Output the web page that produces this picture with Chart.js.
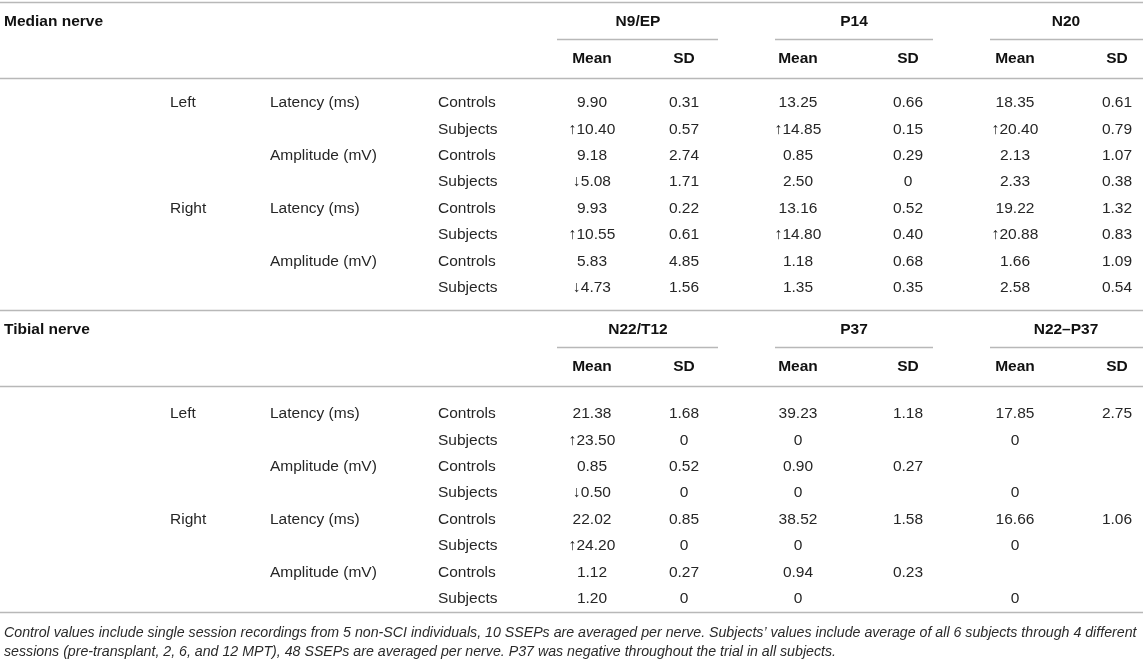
<!DOCTYPE html>
<html>
<head>
<meta charset="utf-8">
<script src="https://cdn.jsdelivr.net/npm/chart.js@4/dist/chart.umd.min.js"></script>
<style>
html,body{margin:0;padding:0;background:#fff;}
canvas{display:block;}
</style>
</head>
<body>
<canvas id="c" width="1143" height="667"></canvas>
<script>
// ---------- DATA ----------
const sections = ['Median nerve', 'Tibial nerve'];
const medianGroups = ['N9/EP', 'P14', 'N20'];
const tibialGroups = ['N22/T12', 'P37', 'N22–P37'];
const statLabels = ['Mean', 'SD'];
const sides = ['Left', 'Right'];
const measures = ['Latency (ms)', 'Amplitude (mV)'];
const cohorts = ['Controls', 'Subjects'];

const medianMean = [
  [9.90, 13.25, 18.35],
  [10.40, 14.85, 20.40],
  [9.18, 0.85, 2.13],
  [5.08, 2.50, 2.33],
  [9.93, 13.16, 19.22],
  [10.55, 14.80, 20.88],
  [5.83, 1.18, 1.66],
  [4.73, 1.35, 2.58]
];
const medianSD = [
  [0.31, 0.66, 0.61],
  [0.57, 0.15, 0.79],
  [2.74, 0.29, 1.07],
  [1.71, 0, 0.38],
  [0.22, 0.52, 1.32],
  [0.61, 0.40, 0.83],
  [4.85, 0.68, 1.09],
  [1.56, 0.35, 0.54]
];
const medianTrend = [
  ['', '', ''],
  ['↑', '↑', '↑'],
  ['', '', ''],
  ['↓', '', ''],
  ['', '', ''],
  ['↑', '↑', '↑'],
  ['', '', ''],
  ['↓', '', '']
];
const tibialMean = [
  [21.38, 39.23, 17.85],
  [23.50, 0, 0],
  [0.85, 0.90, null],
  [0.50, 0, 0],
  [22.02, 38.52, 16.66],
  [24.20, 0, 0],
  [1.12, 0.94, null],
  [1.20, 0, 0]
];
const tibialSD = [
  [1.68, 1.18, 2.75],
  [0, null, null],
  [0.52, 0.27, null],
  [0, null, null],
  [0.85, 1.58, 1.06],
  [0, null, null],
  [0.27, 0.23, null],
  [0, null, null]
];
const tibialTrend = [
  ['', '', ''],
  ['↑', '', ''],
  ['', '', ''],
  ['↓', '', ''],
  ['', '', ''],
  ['↑', '', ''],
  ['', '', ''],
  ['', '', '']
];
const footnote = [
  'Control values include single session recordings from 5 non-SCI individuals, 10 SSEPs are averaged per nerve. Subjects’ values include average of all 6 subjects through 4 different',
  'sessions (pre-transplant, 2, 6, and 12 MPT), 48 SSEPs are averaged per nerve. P37 was negative throughout the trial in all subjects.'
];

// ---------- LAYOUT (positions in scale units) ----------
const L = {
  width: 1143, height: 667,
  nerveX: 4, sideX: 170, measureX: 270, cohortX: 438,
  valueX: [592, 684, 798, 908, 1015, 1117],
  groupX: [638, 854, 1066],
  groupLine: [[557, 718], [775, 933], [990, 1143]],
  sec: [
    {top: 2, title: 22, short: 39, sub: 59, line: 78, row0: 103},
    {top: 310, title: 330, short: 347, sub: 367, line: 386, row0: 414}
  ],
  rowStep: 26.4,
  bottom: 612,
  foot: [633, 652]
};
const FONT = "'Liberation Sans', Arial, Helvetica, sans-serif";
const TXT = '#262626';
const RULE = '#b8b8b8';

function fmt(v) { return v === 0 ? '0' : v.toFixed(2); }

// ---------- BUILD DATASETS ----------
const datasets = [];
function addCell(arr, x, y, t, opts) { arr.push(Object.assign({x: x, y: y, t: t}, opts || {})); }

const headerCells = [];
const labelCells = [];
const valueCells = [];
const noteCells = [];

const groupSets = [medianGroups, tibialGroups];
const meanSets = [medianMean, tibialMean];
const sdSets = [medianSD, tibialSD];
const trendSets = [medianTrend, tibialTrend];

sections.forEach((s, si) => {
  const g = L.sec[si];
  addCell(headerCells, L.nerveX, g.title, s, {align: 'left', bold: true});
  groupSets[si].forEach((gn, gi) => {
    addCell(headerCells, L.groupX[gi], g.title, gn, {align: 'center', bold: true});
    statLabels.forEach((st, k) => {
      addCell(headerCells, L.valueX[gi * 2 + k], g.sub, st, {align: 'center', bold: true});
    });
  });
  for (let r = 0; r < 8; r++) {
    const y = g.row0 + r * L.rowStep;
    if (r % 4 === 0) addCell(labelCells, L.sideX, y, sides[r / 4], {align: 'left'});
    if (r % 2 === 0) addCell(labelCells, L.measureX, y, measures[(r / 2) % 2], {align: 'left'});
    addCell(labelCells, L.cohortX, y, cohorts[r % 2], {align: 'left'});
    for (let c = 0; c < 3; c++) {
      const m = meanSets[si][r][c];
      const sd = sdSets[si][r][c];
      if (m !== null) addCell(valueCells, L.valueX[c * 2], y, trendSets[si][r][c] + fmt(m), {align: 'center'});
      if (sd !== null) addCell(valueCells, L.valueX[c * 2 + 1], y, fmt(sd), {align: 'center'});
    }
  }
});
footnote.forEach((t, i) => addCell(noteCells, L.nerveX, L.foot[i], t, {align: 'left', italic: true}));

[headerCells, labelCells, valueCells, noteCells].forEach((d, i) => {
  datasets.push({label: 'cells' + i, data: d, pointRadius: 0, pointHoverRadius: 0, showLine: false});
});

// ---------- PLUGIN: rules + text drawn at the scale positions ----------
const tablePlugin = {
  id: 'tableDraw',
  beforeDatasetsDraw(chart) {
    const ctx = chart.ctx, xs = chart.scales.x, ys = chart.scales.y;
    ctx.save();
    ctx.strokeStyle = RULE;
    ctx.lineWidth = 1.6;
    function hline(x0, x1, y) {
      const py = Math.round(ys.getPixelForValue(y)) + 0.5;
      ctx.beginPath();
      ctx.moveTo(xs.getPixelForValue(x0), py);
      ctx.lineTo(xs.getPixelForValue(x1), py);
      ctx.stroke();
    }
    L.sec.forEach(g => {
      hline(0, L.width, g.top);
      L.groupLine.forEach(gl => hline(gl[0], gl[1], g.short));
      hline(0, L.width, g.line);
    });
    hline(0, L.width, L.bottom);
    ctx.restore();
  },
  afterDatasetsDraw(chart) {
    const ctx = chart.ctx;
    ctx.save();
    ctx.textBaseline = 'middle';
    chart.data.datasets.forEach((ds, i) => {
      const meta = chart.getDatasetMeta(i);
      meta.data.forEach((el, j) => {
        const raw = ds.data[j];
        ctx.textAlign = raw.align;
        if (raw.italic) { ctx.font = 'italic 14.2px ' + FONT; ctx.fillStyle = '#2a2a2a'; }
        else if (raw.bold) { ctx.font = 'bold 15.5px ' + FONT; ctx.fillStyle = '#111'; }
        else { ctx.font = '15.5px ' + FONT; ctx.fillStyle = TXT; }
        ctx.fillText(raw.t, el.x, el.y);
      });
    });
    ctx.restore();
  }
};

new Chart(document.getElementById('c'), {
  type: 'scatter',
  data: {datasets: datasets},
  options: {
    responsive: false,
    animation: false,
    events: [],
    layout: {padding: 0},
    plugins: {legend: {display: false}, tooltip: {enabled: false}},
    scales: {
      x: {type: 'linear', min: 0, max: L.width, display: false},
      y: {type: 'linear', min: 0, max: L.height, reverse: true, display: false}
    }
  },
  plugins: [tablePlugin]
});
</script>
</body>
</html>
